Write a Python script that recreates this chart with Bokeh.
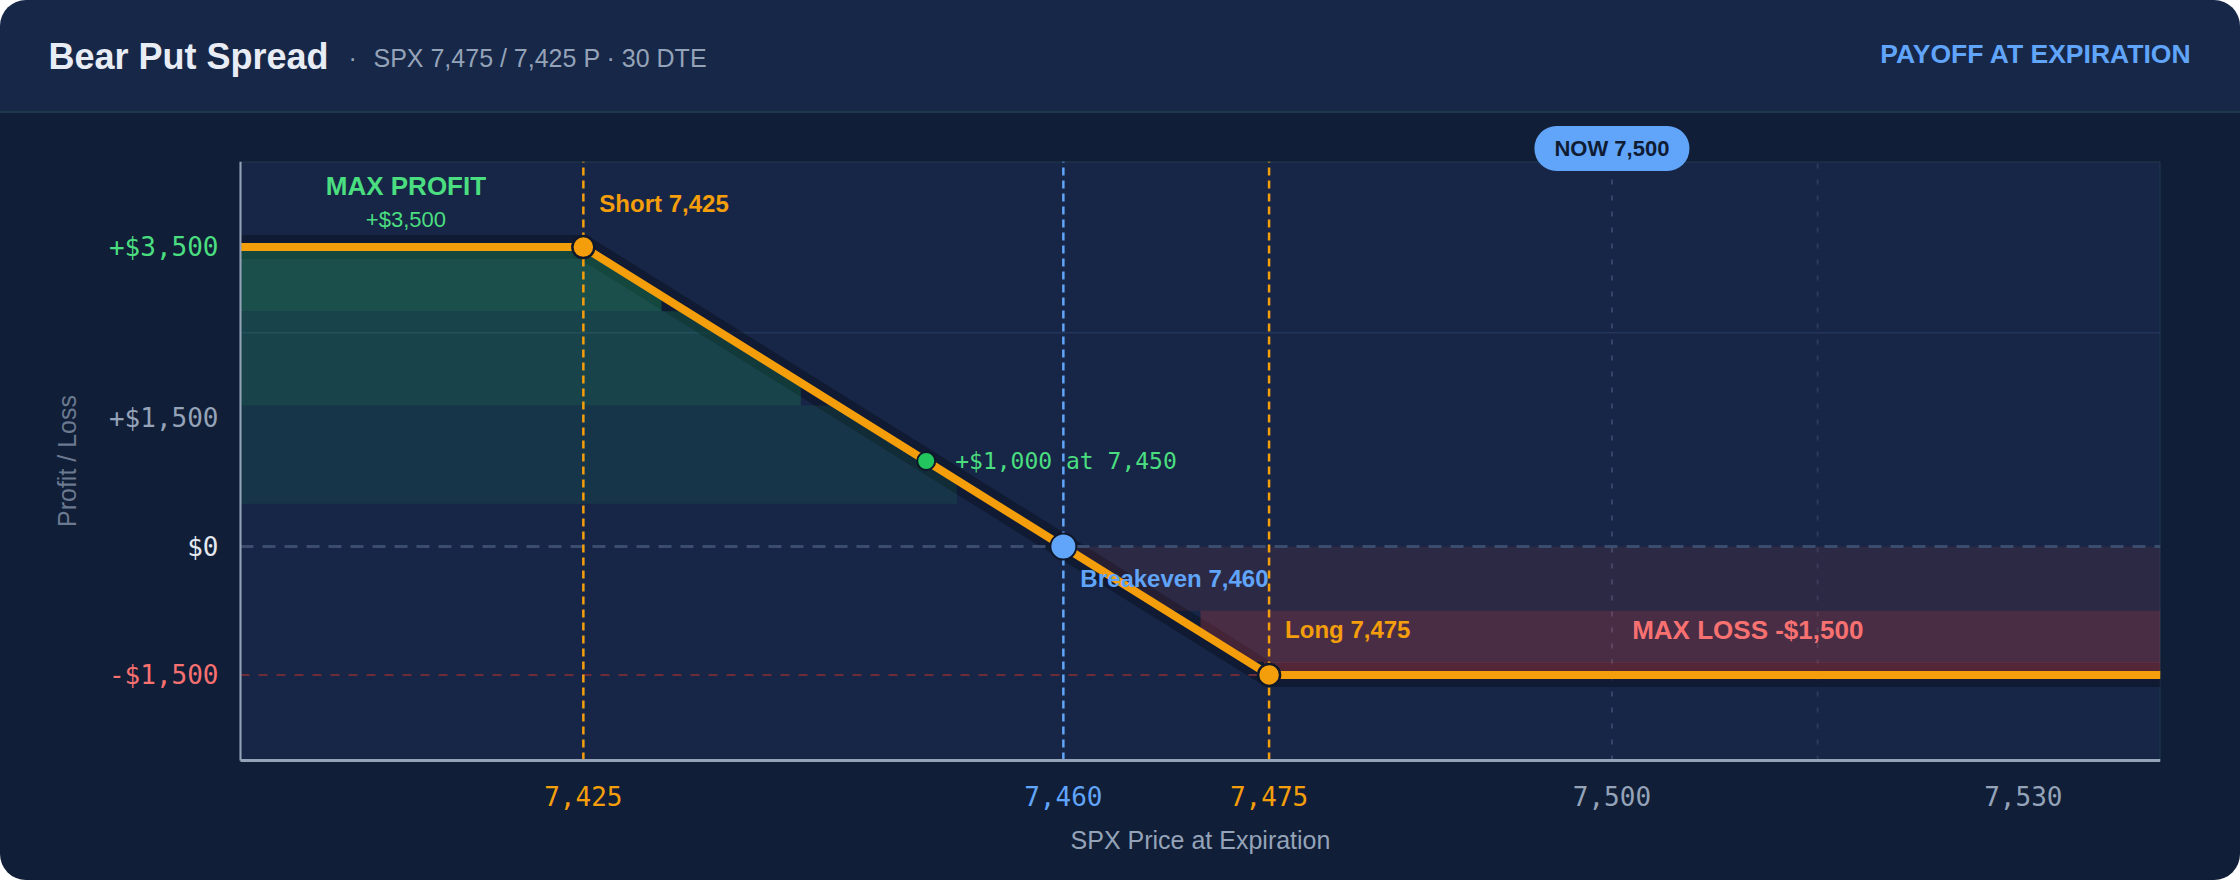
import numpy as np
from bokeh.plotting import figure
from bokeh.models import Range1d, FixedTicker, Label, LinearAxis
from bokeh.embed import file_html
from bokeh.resources import INLINE

# ---------------- data ----------------
price_pts = [7400, 7425, 7475, 7540]
pnl_pts = [3500, 3500, -1500, -1500]
short_strike = 7425
long_strike = 7475
breakeven = 7460
spot = 7500
probe_price = 7450
probe_pnl = 1000
x_ticks = [7425, 7460, 7475, 7500, 7530]
x_tick_labels = ["7,425", "7,460", "7,475", "7,500", "7,530"]
y_ticks = [3500, 1500, 0, -1500]
y_tick_labels = ["+$3,500", "+$1,500", "$0", "-$1,500"]
profit_band_levels = [3500, 2750, 1650, 500]
loss_band_levels = [0, -750, -1345, -1500]
x_grid = [7500, 7515]
y_grid = [2500]
x_lim = [7400, 7540]
y_lim = [-2500, 4500]

# ---------------- styles / layout ----------------
ORANGE = "#f59e0b"
BLUE = "#60a5fa"
GREEN = "#4ade80"
GREEN_DOT = "#22c55e"
RED = "#f87171"
GREY = "#94a3b8"
LIGHT = "#e2e8f0"
SANS = "Liberation Sans"
MONO = "DejaVu Sans Mono"
x_tick_colors = [ORANGE, BLUE, ORANGE, GREY, GREY]
y_tick_colors = [GREEN, GREY, LIGHT, RED]
profit_alphas = [0.26, 0.19, 0.095]
profit_steps = [0.76, 0.76, 0.76]
loss_alphas = [0.10, 0.235, 0.30]
loss_steps = [0.0, 0.42, 0.76]

W, H = 2240, 880
TOP = 161            # plot area top (px)
PLOT_L, PLOT_R = 240, 2160   # plot area left / right (px)
PLOT_B = 760         # plot area bottom (px)

# the frame also covers the tick-label gutters, so the plot area is mapped inside it
px_per_x = (PLOT_R - PLOT_L) / (x_lim[1] - x_lim[0])
px_per_y = (PLOT_B - TOP) / (y_lim[1] - y_lim[0])
xr = Range1d(x_lim[0] - PLOT_L / px_per_x, x_lim[1])
yr = Range1d(y_lim[0] - (H - PLOT_B) / px_per_y, y_lim[1])

p = figure(width=W, height=H, x_range=xr, y_range=yr, output_backend="svg", toolbar_location=None,
           x_axis_location=None, y_axis_location=None,
           min_border_left=0, min_border_right=W - PLOT_R, min_border_top=TOP, min_border_bottom=0)
p.title.visible = False
p.styles = {
    "border-radius": "26px",
    "overflow": "hidden",
    "background": "linear-gradient(to bottom, #172748 0px, #172748 111px, #1e3a4a 111px, "
                  "#1e3a4a 113px, #111e37 113px, #111e37 100%)",
}
p.border_fill_alpha = 0
p.background_fill_alpha = 0
p.outline_line_color = None
p.xgrid.visible = False
p.ygrid.visible = False

# plot area background + frame border
p.quad(left=[x_lim[0]], right=[x_lim[1]], bottom=[y_lim[0]], top=[y_lim[1]],
       fill_color="#172646", line_color="#1e3a4a", line_width=2)


def make_axis(kind, ticks, color, main=False):
    labels = x_tick_labels if kind == "x" else y_tick_labels
    allticks = x_ticks if kind == "x" else y_ticks
    ax = LinearAxis(ticker=FixedTicker(ticks=ticks),
                    fixed_location=y_lim[0] if kind == "x" else x_lim[0],
                    bounds=tuple(x_lim) if kind == "x" else tuple(y_lim),
                    major_label_overrides={t: l for t, l in zip(allticks, labels) if t in ticks})
    ax.major_tick_line_color = None
    ax.minor_tick_line_color = None
    ax.major_label_text_font = MONO
    ax.major_label_text_font_size = "26px"
    ax.major_label_text_color = color
    ax.major_label_standoff = 19 if kind == "x" else 16
    if main:
        ax.axis_line_color = GREY
        ax.axis_line_width = 3 if kind == "x" else 2
        ax.axis_label_text_font = SANS
        ax.axis_label_text_font_size = "25px"
        ax.axis_label_text_font_style = "normal"
        if kind == "x":
            ax.axis_label = "SPX Price at Expiration"
            ax.axis_label_text_color = GREY
            ax.axis_label_standoff = 17
        else:
            ax.axis_label = "Profit / Loss"
            ax.axis_label_text_color = "#6b7a90"
            ax.axis_label_standoff = 25
    else:
        ax.axis_line_color = None
    p.add_layout(ax, "below" if kind == "x" else "left")


for kind, ticks_all, cols in (("x", x_ticks, x_tick_colors), ("y", y_ticks, y_tick_colors)):
    for col in dict.fromkeys(cols):
        make_axis(kind, [t for t, c in zip(ticks_all, cols) if c == col], col, main=(col == GREY))

# grid lines
p.segment(x0=x_grid, y0=[y_lim[0]] * len(x_grid), x1=x_grid, y1=[y_lim[1]] * len(x_grid),
          line_color=["#34476a", "#283a5a"], line_width=2, line_dash="5 11")
p.segment(x0=[x_lim[0]] * len(y_grid), y0=y_grid, x1=[x_lim[1]] * len(y_grid), y1=y_grid,
          line_color="#22355a", line_width=1.5)

# glow under payoff line
p.line(price_pts, pnl_pts, line_color="#0a1020", line_alpha=0.5, line_width=24, line_join="round")

# band fills derived from payoff
diag_p = np.array(pnl_pts[1:3][::-1], dtype=float)
diag_x = np.array(price_pts[1:3][::-1], dtype=float)


def line_x(v):
    return float(np.interp(v, diag_p, diag_x))


gxs, gys = [], []
for i in range(len(profit_band_levels) - 1):
    hi, lo = profit_band_levels[i], profit_band_levels[i + 1]
    cut = hi - profit_steps[i] * (hi - lo)
    xc = line_x(cut)
    gxs.append([x_lim[0], line_x(hi), xc, xc, x_lim[0]])
    gys.append([hi, hi, cut, lo, lo])
p.patches(gxs, gys, fill_color=GREEN_DOT, fill_alpha=profit_alphas, line_color=None)

rxs, rys = [], []
for i in range(len(loss_band_levels) - 1):
    hi, lo = loss_band_levels[i], loss_band_levels[i + 1]
    cut = hi - loss_steps[i] * (hi - lo)
    xc = line_x(cut)
    rxs.append([xc, x_lim[1], x_lim[1], line_x(lo), xc])
    rys.append([hi, hi, lo, lo, cut])
p.patches(rxs, rys, fill_color="#ef4444", fill_alpha=loss_alphas, line_color=None)

# reference lines
p.segment(x0=[x_lim[0]], y0=[0], x1=[x_lim[1]], y1=[0], line_color="#3b4d6e", line_width=3, line_dash="13 9")
p.segment(x0=[x_lim[0]], y0=[pnl_pts[-1]], x1=[x_lim[1]], y1=[pnl_pts[-1]],
          line_color="#6e2b38", line_width=2, line_dash="9 9")
p.segment(x0=[short_strike, long_strike], y0=[y_lim[0]] * 2, x1=[short_strike, long_strike], y1=[y_lim[1]] * 2,
          line_color=ORANGE, line_width=2.5, line_dash="8 5")
p.segment(x0=[breakeven], y0=[y_lim[0]], x1=[breakeven], y1=[y_lim[1]],
          line_color=BLUE, line_width=2.5, line_dash="8 5")

# payoff line
p.line(price_pts, pnl_pts, line_color=ORANGE, line_width=8, line_join="round")

# markers
p.scatter([short_strike, long_strike], [pnl_pts[1], pnl_pts[2]], size=22,
          fill_color=ORANGE, line_color="#0f172a", line_width=2.5)
p.scatter([breakeven], [0], size=26, fill_color=BLUE, line_color="#0f172a", line_width=2)
p.scatter([probe_price], [probe_pnl], size=18, fill_color=GREEN_DOT, line_color="#0f172a", line_width=2)


def lab(x, y, text, color, size, bold=True, align="left", xo=0, yo=0, font=SANS):
    p.add_layout(Label(x=x, y=y, text=text, text_color=color, text_font=font, text_font_size=size,
                       text_font_style="bold" if bold else "normal", text_align=align,
                       text_baseline="middle", x_offset=xo, y_offset=yo))


mp_x = (x_lim[0] + short_strike) / 2
lab(mp_x, pnl_pts[1], "MAX PROFIT", GREEN, "26px", align="center", xo=-6, yo=61)
lab(mp_x, pnl_pts[1], "+$3,500", GREEN, "22px", bold=False, align="center", xo=-6, yo=28)
lab(short_strike, pnl_pts[1], "Short 7,425", ORANGE, "24px", xo=16, yo=44)
lab(probe_price, probe_pnl, "+$1,000 at 7,450", GREEN, "23px", bold=False, xo=29, font=MONO)
lab(breakeven, 0, "Breakeven 7,460", BLUE, "24px", xo=17, yo=-32)
lab(long_strike, pnl_pts[2], "Long 7,475", ORANGE, "24px", xo=16, yo=45)
lab((long_strike + x_lim[1]) / 2, pnl_pts[2], "MAX LOSS -$1,500", RED, "26px", align="center", xo=33, yo=45)

# NOW pill (in the top panel, so it is not clipped by the frame)
p.add_layout(Label(x=spot, y=148, y_units="canvas", text="NOW 7,500", text_color="#0f1c33",
                   text_font=SANS, text_font_size="22px", text_font_style="bold",
                   text_align="center", text_baseline="middle",
                   background_fill_color=BLUE, background_fill_alpha=1.0,
                   padding=dict(left=20, right=20, top=10, bottom=10), border_radius=22), "above")

# header texts
p.add_layout(Label(x=48, y=56, x_units="canvas", y_units="canvas", text="Bear Put Spread",
                   text_color="#e8edf5", text_font=SANS, text_font_size="36px", text_font_style="bold",
                   text_baseline="middle"), "above")
p.add_layout(Label(x=348, y=57, x_units="canvas", y_units="canvas", text="·",
                   text_color=GREY, text_font=SANS, text_font_size="25px", text_baseline="middle"), "right")
p.add_layout(Label(x=373, y=57, x_units="canvas", y_units="canvas", text="SPX 7,475 / 7,425 P · 30 DTE",
                   text_color=GREY, text_font=SANS, text_font_size="25px", text_baseline="middle"), "above")
p.add_layout(Label(x=2191, y=53, x_units="canvas", y_units="canvas", text="PAYOFF AT EXPIRATION",
                   text_color=BLUE, text_font=SANS, text_font_size="26.5px", text_font_style="bold",
                   text_align="right", text_baseline="middle"), "above")

open("out.html", "w").write(file_html(p, INLINE))
